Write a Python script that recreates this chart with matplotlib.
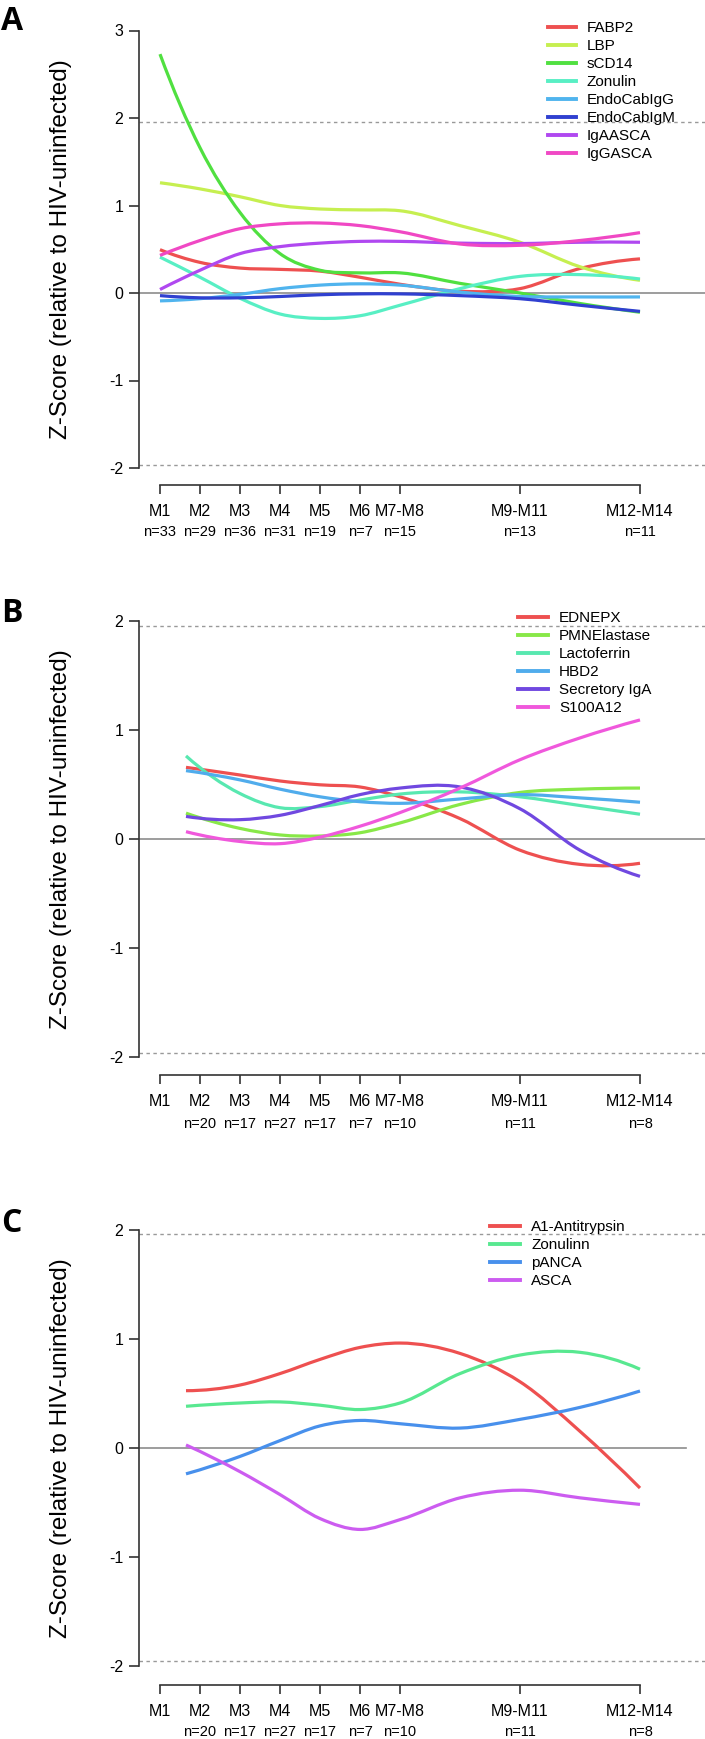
import numpy as np
import matplotlib
matplotlib.use("Agg")
import matplotlib.pyplot as plt
from matplotlib.path import Path
from matplotlib.patches import PathPatch
from matplotlib.lines import Line2D
import matplotlib.transforms as mtransforms

plt.rcParams['font.family'] = ['Liberation Sans', 'DejaVu Sans']

# time points on the x axis
tick_pos = [1, 2, 3, 4, 5, 6, 7, 10, 13]
tick_labels = ["M1", "M2", "M3", "M4", "M5", "M6", "M7-M8", "M9-M11", "M12-M14"]
n_a = ["n=33", "n=29", "n=36", "n=31", "n=19", "n=7", "n=15", "n=13", "n=11"]
n_bc = ["", "n=20", "n=17", "n=27", "n=17", "n=7", "n=10", "n=11", "n=8"]

# ---- panel A ----
x_a = [1, 2, 3, 4, 5, 6, 7, 8.5, 10, 11.5, 13]
fabp2 = [0.495, 0.35, 0.285, 0.27, 0.25, 0.18, 0.10, 0.02, 0.05, 0.28, 0.39]
lbp = [1.26, 1.19, 1.10, 1.00, 0.96, 0.95, 0.94, 0.77, 0.58, 0.30, 0.145]
scd14 = [2.73, 1.66, 0.92, 0.45, 0.26, 0.23, 0.23, 0.11, 0.00, -0.12, -0.22]
zonulin = [0.41, 0.18, -0.06, -0.24, -0.29, -0.26, -0.14, 0.05, 0.19, 0.21, 0.16]
endo_igg = [-0.09, -0.065, -0.015, 0.05, 0.09, 0.105, 0.09, 0.01, -0.04, -0.045, -0.045]
endo_igm = [-0.03, -0.055, -0.055, -0.04, -0.02, -0.01, -0.01, -0.03, -0.065, -0.14, -0.21]
igaasca = [0.04, 0.26, 0.45, 0.53, 0.57, 0.59, 0.59, 0.57, 0.565, 0.58, 0.58]
iggasca = [0.43, 0.60, 0.735, 0.79, 0.80, 0.77, 0.70, 0.56, 0.545, 0.60, 0.69]

# ---- panel B ----
x_b = [1.65, 3, 4, 5, 6, 7, 8.5, 10, 11.5, 13]
ednepx = [0.66, 0.59, 0.535, 0.50, 0.48, 0.39, 0.19, -0.10, -0.23, -0.22]
pmn = [0.24, 0.10, 0.04, 0.03, 0.06, 0.15, 0.32, 0.43, 0.46, 0.47]
lactoferrin = [0.765, 0.42, 0.29, 0.30, 0.36, 0.415, 0.435, 0.39, 0.31, 0.23]
hbd2 = [0.63, 0.545, 0.46, 0.39, 0.345, 0.33, 0.37, 0.41, 0.38, 0.34]
siga = [0.21, 0.18, 0.22, 0.31, 0.41, 0.47, 0.48, 0.28, -0.10, -0.34]
s100a12 = [0.07, -0.02, -0.04, 0.02, 0.12, 0.245, 0.47, 0.73, 0.93, 1.095]

# ---- panel C ----
x_c = [1.65, 3, 4, 5, 6, 7, 8.5, 10, 11.5, 13]
a1at = [0.523, 0.575, 0.68, 0.81, 0.92, 0.96, 0.865, 0.605, 0.15, -0.37]
zonulinn = [0.38, 0.41, 0.42, 0.39, 0.35, 0.41, 0.68, 0.85, 0.875, 0.72]
panca = [-0.24, -0.08, 0.065, 0.20, 0.25, 0.22, 0.18, 0.26, 0.37, 0.52]
asca = [0.025, -0.22, -0.43, -0.65, -0.75, -0.66, -0.46, -0.39, -0.46, -0.52]

W, H = 705, 1739
fig = plt.figure(figsize=(W / 100, H / 100), dpi=100)

X0 = 0.4625                       # x value at the y axis
XPX = 40.0                        # pixels per x unit
AX_LEFT = 138.5


def smooth_path(x, y):
    """cubic curve through the read values, drawn as bezier path"""
    x = np.asarray(x, float)
    y = np.asarray(y, float)
    n = len(x)
    m = np.zeros(n)
    for i in range(1, n - 1):
        h0 = x[i] - x[i - 1]
        h1 = x[i + 1] - x[i]
        s0 = (y[i] - y[i - 1]) / h0
        s1 = (y[i + 1] - y[i]) / h1
        m[i] = (s0 * h1 + s1 * h0) / (h0 + h1)
    m[0] = 2 * (y[1] - y[0]) / (x[1] - x[0]) - m[1]
    m[-1] = 2 * (y[-1] - y[-2]) / (x[-1] - x[-2]) - m[-2]
    verts = [(x[0], y[0])]
    codes = [Path.MOVETO]
    for i in range(n - 1):
        dx = x[i + 1] - x[i]
        verts += [(x[i] + dx / 3, y[i] + m[i] * dx / 3),
                  (x[i + 1] - dx / 3, y[i + 1] - m[i + 1] * dx / 3),
                  (x[i + 1], y[i + 1])]
        codes += [Path.CURVE4] * 3
    return Path(verts, codes)


def make_axes(top_px, bottom_px, zero_px, px_per_unit, ytop):
    ax = fig.add_axes([AX_LEFT / W, 1 - bottom_px / H,
                       (W - AX_LEFT) / W, (bottom_px - top_px) / H])
    ax.set_xlim(X0, X0 + (W - AX_LEFT) / XPX)
    ax.set_ylim(-(bottom_px - zero_px) / px_per_unit, (zero_px - top_px) / px_per_unit)
    for s in ["top", "right"]:
        ax.spines[s].set_visible(False)
    ax.spines["left"].set_bounds(-2, ytop)
    ax.spines["bottom"].set_bounds(1, 13)
    for s in ["left", "bottom"]:
        ax.spines[s].set_color("#333333")
        ax.spines[s].set_linewidth(1.2)
    ax.set_yticks(range(-2, ytop + 1))
    ax.set_yticklabels([str(v) for v in range(-2, ytop + 1)], fontsize=11.5)
    ax.set_xticks(tick_pos)
    ax.set_xticklabels(tick_labels, fontsize=11.5)
    ax.tick_params(axis="y", length=7, width=1.2, color="#333333", pad=4)
    ax.tick_params(axis="x", length=6.5, width=1.2, color="#333333", pad=7)
    ax.patch.set_alpha(0)
    # reference lines
    for yy in (1.96, -1.96):
        ax.axhline(yy, color="#999999", lw=1.0, ls=(0, (2.5, 2.5)), zorder=1)
    ax.set_ylabel("Z-Score (relative to HIV-uninfected)", fontsize=17.5)
    return ax


def draw(ax, x, series, names, colors):
    for ys, c in zip(series, colors):
        ax.add_patch(PathPatch(smooth_path(x, ys), fill=False, edgecolor=c,
                               lw=2.3, capstyle="butt", zorder=3))
    handles = [Line2D([], [], color=c, lw=2.8) for c in colors]
    return handles


def n_row(ax, labels, dy_px):
    trans = mtransforms.blended_transform_factory(ax.transData, ax.transAxes)
    h = ax.get_position().height * H
    for p, lab in zip(tick_pos, labels):
        if lab:
            ax.text(p, -dy_px / h, lab, transform=trans, ha="center", va="center",
                    fontsize=10.5)


def place_legend(ax, handles, names, left_px, top_px, hl):
    ax.legend(handles, names, loc="upper left",
              bbox_to_anchor=(left_px / W, 1 - top_px / H),
              bbox_transform=fig.transFigure, frameon=False, fontsize=11,
              borderpad=0, borderaxespad=0, handlelength=hl,
              handletextpad=0.75, labelspacing=0.26)


def label_at(ax, yval):
    trans = mtransforms.blended_transform_factory(ax.transAxes, ax.transData)
    ax.yaxis.set_label_coords((72 - AX_LEFT) / (W - AX_LEFT), yval, transform=trans)


# panel A
axA = make_axes(20, 485, 293, 87.5, 3)
axA.axhline(0, color="#8c8c8c", lw=1.2, zorder=1)
cols_a = ["#ee5050", "#c6ef50", "#50e040", "#58efc4", "#50b4ee", "#3040d0", "#b048f0", "#f048c4"]
names_a = ["FABP2", "LBP", "sCD14", "Zonulin", "EndoCabIgG", "EndoCabIgM", "IgAASCA", "IgGASCA"]
hA = draw(axA, x_a, [fabp2, lbp, scd14, zonulin, endo_igg, endo_igm, igaasca, iggasca],
          names_a, cols_a)
place_legend(axA, hA, names_a, 548, 21.5, 1.8)
n_row(axA, n_a, 47.5)
label_at(axA, 0.5)

# panel B
axB = make_axes(600, 1075, 839.3, 109, 2)
axB.axhline(0, color="#8c8c8c", lw=1.2, zorder=1)
cols_b = ["#ee5050", "#88e848", "#58e8b0", "#50acec", "#7048e0", "#f058dc"]
names_b = ["EDNEPX", "PMNElastase", "Lactoferrin", "HBD2", "Secretory IgA", "S100A12"]
hB = draw(axB, x_b, [ednepx, pmn, lactoferrin, hbd2, siga, s100a12], names_b, cols_b)
place_legend(axB, hB, names_b, 518, 611, 1.95)
n_row(axB, n_bc, 49)
label_at(axB, 0)

# panel C
axC = make_axes(1210, 1685, 1447.7, 109, 2)
axC.axhline(0, xmax=(686 - AX_LEFT) / (W - AX_LEFT), color="#8c8c8c", lw=1.2, zorder=1)
cols_c = ["#ee5050", "#58e890", "#4890ec", "#cc5cf0"]
names_c = ["A1-Antitrypsin", "Zonulinn", "pANCA", "ASCA"]
hC = draw(axC, x_c, [a1at, zonulinn, panca, asca], names_c, cols_c)
place_legend(axC, hC, names_c, 490, 1220, 1.95)
n_row(axC, n_bc, 47)
label_at(axC, 0)

# panel letters
for letter, ybase in [("A", 30), ("B", 622), ("C", 1232)]:
    fig.text(1 / W, 1 - ybase / H, letter, fontsize=23, fontweight="bold",
             family=["Open Sans", "DejaVu Sans"], ha="left", va="baseline")

fig.savefig("out.png", dpi=100)
